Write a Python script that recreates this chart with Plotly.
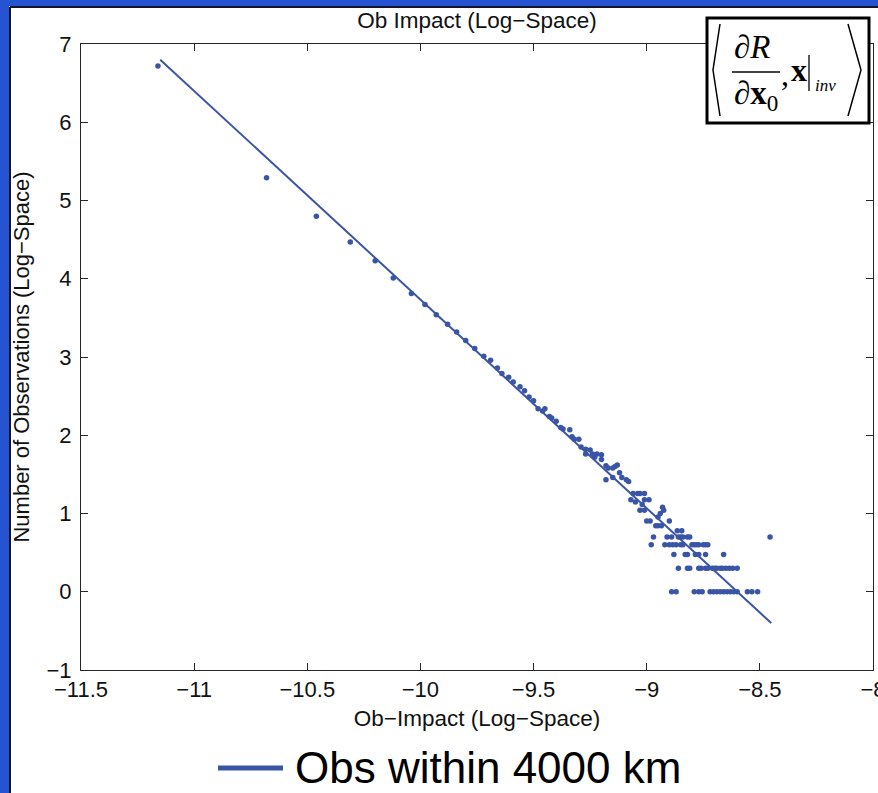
import plotly.graph_objects as go

# ---------------- data ----------------
ob_x = [
    -11.16, -10.68, -10.46, -10.31, -10.20, -10.12,
    -10.04, -9.98, -9.93, -9.88, -9.84, -9.80, -9.76, -9.72, -9.69, -9.66,
    -9.64, -9.61, -9.59, -9.56, -9.54, -9.52, -9.50, -9.48, -9.45, -9.46,
    -9.43, -9.42, -9.40, -9.38, -9.37, -9.34, -9.33, -9.32, -9.30, -9.29,
    -9.27, -9.25, -9.27, -9.24, -9.23, -9.22, -9.20, -9.20, -9.18, -9.17,
    -9.15, -9.14, -9.13, -9.18, -9.15, -9.12, -9.11, -9.09, -9.08,
    -9.06, -9.04, -9.03, -9.01, -9.07, -9.05, -9.01, -8.99, -9.02, -9.03,
    -9.01, -8.93, -8.925, -8.94, -8.95, -9.00, -8.985, -8.96, -8.95, -8.935,
    -8.90, -8.865, -8.845,
    -8.97, -8.91, -8.89, -8.86, -8.85, -8.84, -8.82, -8.81, -8.455,
    -8.98, -8.92, -8.90, -8.885, -8.87, -8.85, -8.84, -8.80, -8.79, -8.78,
    -8.77, -8.75, -8.74, -8.73,
    -8.88, -8.83, -8.82, -8.785, -8.77, -8.74, -8.66,
    -8.86, -8.82, -8.81, -8.77, -8.76, -8.74, -8.73, -8.71, -8.70, -8.69,
    -8.675, -8.665, -8.65, -8.635, -8.62, -8.60,
    -8.89, -8.87, -8.79, -8.77, -8.755, -8.72, -8.705, -8.69, -8.675, -8.66,
    -8.645, -8.63, -8.615, -8.60, -8.555, -8.535, -8.51,
]
ob_y = [
    6.72, 5.29, 4.80, 4.47, 4.23, 4.01,
    3.81, 3.67, 3.54, 3.42, 3.32, 3.21, 3.11, 3.01, 2.96, 2.86,
    2.79, 2.74, 2.68, 2.62, 2.57, 2.49, 2.44, 2.34, 2.34, 2.31,
    2.24, 2.22, 2.18, 2.10, 2.08, 2.07, 1.98, 1.95, 1.95, 1.85,
    1.82, 1.81, 1.76, 1.76, 1.72, 1.76, 1.75, 1.69, 1.61, 1.58,
    1.58, 1.60, 1.62, 1.43, 1.46, 1.52, 1.46, 1.43, 1.41,
    1.255, 1.255, 1.255, 1.255, 1.176, 1.146, 1.176, 1.176, 1.114, 1.041,
    1.041, 1.079, 1.041, 1.000, 0.954, 0.903, 0.903, 0.845, 0.845, 0.845,
    0.903, 0.778, 0.778,
    0.699, 0.699, 0.699, 0.699, 0.699, 0.699, 0.699, 0.699, 0.699,
    0.602, 0.602, 0.602, 0.602, 0.602, 0.602, 0.602, 0.602, 0.602, 0.602,
    0.602, 0.602, 0.602, 0.602,
    0.477, 0.477, 0.477, 0.477, 0.477, 0.477, 0.477,
    0.301, 0.301, 0.301, 0.301, 0.301, 0.301, 0.301, 0.301, 0.301, 0.301,
    0.301, 0.301, 0.301, 0.301, 0.301, 0.301,
    0.0, 0.0, 0.0, 0.0, 0.0, 0.0, 0.0, 0.0, 0.0, 0.0,
    0.0, 0.0, 0.0, 0.0, 0.0, 0.0, 0.0,
]
fit_x = [-11.15, -8.45]
fit_y = [6.80, -0.40]

x_ticks = [-11.5, -11, -10.5, -10, -9.5, -9, -8.5, -8]
y_ticks = [-1, 0, 1, 2, 3, 4, 5, 6, 7]

title_text = "Ob Impact (Log\u2212Space)"
x_title = "Ob\u2212Impact (Log\u2212Space)"
y_title = "Number of Observations (Log\u2212Space)"
legend_text = "Obs within 4000 km"

# ---------------- layout helpers ----------------
W, H = 878, 793
L, R, T, B = 81, 873, 44, 670
BLUE = "#3b55a6"
FRAME = "#2553d2"
AX = "#262626"
SANS = "Liberation Sans, Arial, sans-serif"
SERIF = "Liberation Serif, Times New Roman, serif"


def px(x):
    return (x - L) / (R - L)


def py(y):
    return (B - y) / (B - T)


fig = go.Figure()
fig.add_trace(go.Scatter(
    x=ob_x, y=ob_y, mode="markers", name="Ob impact",
    marker=dict(size=5.5, color=BLUE), showlegend=False,
))
fig.add_trace(go.Scatter(
    x=fit_x, y=fit_y, mode="lines", name=legend_text,
    line=dict(color=BLUE, width=2), showlegend=False,
))

axis_common = dict(
    showgrid=False, zeroline=False, showline=True, linecolor=AX, linewidth=1,
    mirror="ticks", ticks="inside", ticklen=7, tickcolor=AX, tickwidth=1,
    ticklabeloverflow="allow",
    tickfont=dict(family=SANS, size=22, color="#111"),
)

fig.update_layout(
    width=W, height=H,
    margin=dict(l=L, r=W - R, t=T, b=H - B, autoexpand=False),
    paper_bgcolor="white", plot_bgcolor="white",
    showlegend=False,
    title=dict(text=title_text, x=px((L + R) / 2), xref="paper", xanchor="center",
               y=1 - 20 / H, yref="container", yanchor="middle",
               font=dict(family=SANS, size=22.5, color="#111")),
    xaxis=dict(range=[-11.5, -8], tickvals=x_ticks,
               ticktext=[("\u2212" + f"{abs(v):g}") for v in x_ticks],
               title=dict(text=x_title, standoff=8,
                          font=dict(family=SANS, size=22.5, color="#111")),
               automargin=False, **axis_common),
    yaxis=dict(range=[-1, 7], tickvals=y_ticks,
               ticktext=[("\u2212" + str(abs(v))) if v < 0 else str(v) for v in y_ticks],
               title=dict(text=y_title, standoff=10,
                          font=dict(family=SANS, size=22, color="#111")),
               automargin=False, ticklabelstandoff=4, **axis_common),
)

shapes = []
# slide frame (blue band at left and top with a dark edge)
shapes.append(dict(type="rect", xref="paper", yref="paper", layer="above",
                   x0=px(0), x1=px(9), y0=py(H), y1=py(0),
                   fillcolor=FRAME, line=dict(width=0)))
shapes.append(dict(type="rect", xref="paper", yref="paper", layer="above",
                   x0=px(0), x1=px(W), y0=py(6), y1=py(0),
                   fillcolor=FRAME, line=dict(width=0)))
shapes.append(dict(type="line", xref="paper", yref="paper", layer="above",
                   x0=px(10), x1=px(10), y0=py(H), y1=py(7),
                   line=dict(color="#15152a", width=2)))
shapes.append(dict(type="line", xref="paper", yref="paper", layer="above",
                   x0=px(10), x1=px(W), y0=py(7), y1=py(7),
                   line=dict(color="#15152a", width=2)))

# formula box
shapes.append(dict(type="rect", xref="paper", yref="paper", layer="above",
                   x0=px(707), x1=px(869), y0=py(123), y1=py(18),
                   fillcolor="white", line=dict(color="black", width=3)))
# angle brackets
shapes.append(dict(type="path", xref="paper", yref="paper", layer="above",
                   path=f"M {px(720)},{py(24)} L {px(713)},{py(70)} L {px(720)},{py(116)}",
                   line=dict(color="black", width=1.5)))
shapes.append(dict(type="path", xref="paper", yref="paper", layer="above",
                   path=f"M {px(848)},{py(24)} L {px(861)},{py(70)} L {px(848)},{py(116)}",
                   line=dict(color="black", width=1.5)))
# fraction bar and evaluation bar
shapes.append(dict(type="line", xref="paper", yref="paper", layer="above",
                   x0=px(732), x1=px(780), y0=py(72), y1=py(72),
                   line=dict(color="black", width=1.5)))
shapes.append(dict(type="line", xref="paper", yref="paper", layer="above",
                   x0=px(809), x1=px(809), y0=py(55), y1=py(91),
                   line=dict(color="black", width=1.3)))
# legend sample line
shapes.append(dict(type="line", xref="paper", yref="paper", layer="above",
                   x0=px(218), x1=px(283), y0=py(768), y1=py(768),
                   line=dict(color=BLUE, width=5)))

annotations = [
    dict(text="\u2202<i>R</i>", x=px(752), y=py(47), font=dict(family=SERIF, size=33, color="black")),
    dict(text="\u2202<b>x</b><sub>0</sub>", x=px(756), y=py(96), font=dict(family=SERIF, size=33, color="black")),
    dict(text=",", x=px(785), y=py(74), font=dict(family=SERIF, size=32, color="black")),
    dict(text="<b>x</b>", x=px(799), y=py(70), font=dict(family=SERIF, size=32, color="black")),
    dict(text="<i>inv</i>", x=px(825), y=py(85), font=dict(family=SERIF, size=17, color="black")),
    dict(text=legend_text, x=px(293), y=py(767), xanchor="left",
         font=dict(family=SANS, size=44, color="black")),
]
for a in annotations:
    a.setdefault("xanchor", "center")
    a.update(xref="paper", yref="paper", yanchor="middle", showarrow=False)

fig.update_layout(shapes=shapes, annotations=annotations)

fig.write_html("out.html")
